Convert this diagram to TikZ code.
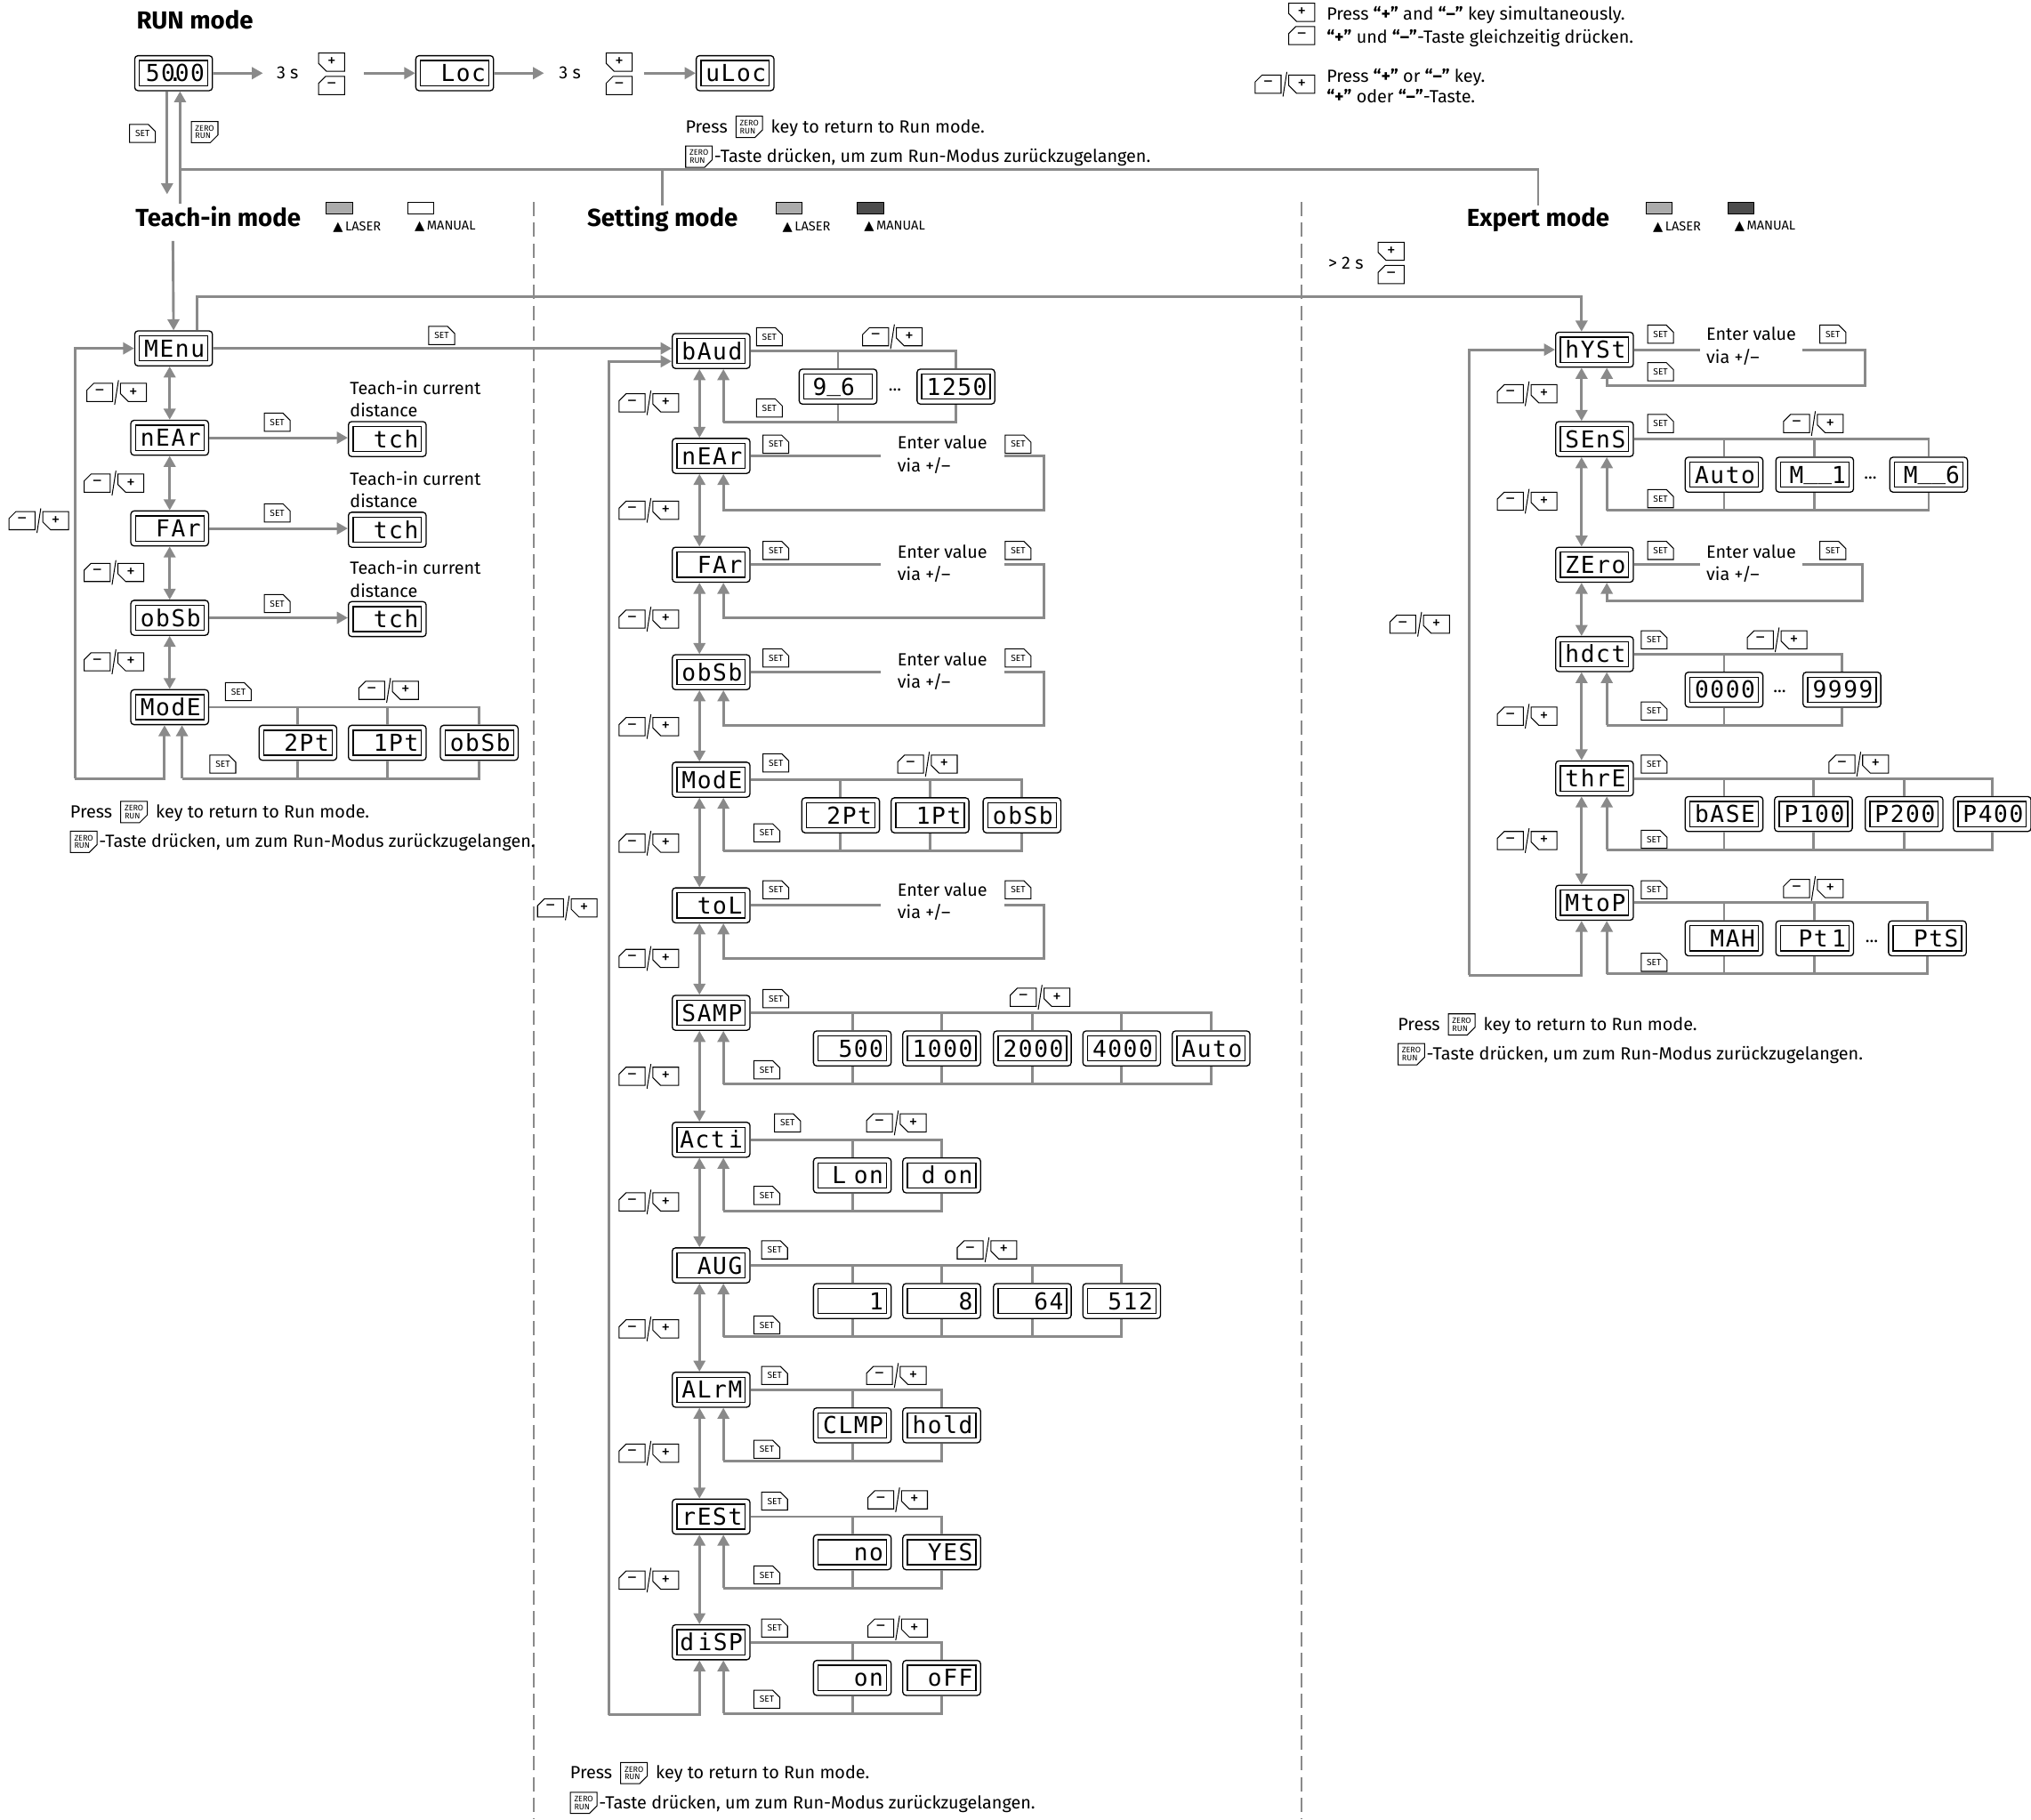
\documentclass[tikz,border=0pt]{standalone}
\usepackage{fontspec}
\setmainfont{Fira Sans}
\newfontfamily\lcdfont[LetterSpace=6]{DejaVu Sans Mono}
\newfontfamily\symfont{DejaVu Sans}
\usetikzlibrary{arrows.meta,positioning,shapes.misc}
\definecolor{wirecol}{HTML}{8A8A8A}
\newcommand\lcdbar{\raisebox{3pt}{\_}}

\tikzset{
    % Connectors
    wire/.style={draw=wirecol, line width=2pt},
    arrow/.style={wire, -{Triangle[length=8.5pt,width=9pt]}},
    both/.style={wire, {Triangle[length=8.5pt,width=9pt]}-{Triangle[length=8.5pt,width=9pt]}},
    divider/.style={draw=wirecol, line width=1.3pt, dash pattern=on 11pt off 5pt},
    % Display with its inner frame
    lcd/.style={draw, rounded corners=2.5pt, line width=.9pt, minimum width=60pt, minimum height=27pt,
        inner sep=0pt, text width=48pt, align=right, text height=13.1pt, text depth=0pt,
        font=\lcdfont\fontsize{18}{18}\selectfont,
        path picture={\draw[sharp corners, line width=.9pt]
            ([xshift=3.6pt,yshift=-3.8pt]path picture bounding box.north west) rectangle
            ([xshift=-3.6pt,yshift=3.8pt]path picture bounding box.south east);}},
    % Keys
    keybox/.style={draw, line width=.7pt, chamfered rectangle, chamfered rectangle sep=3pt,
        minimum width=20pt, minimum height=14pt, inner sep=0pt},
    plus/.style={keybox, chamfered rectangle corners=south west, font=\fontsize{13}{13}\selectfont},
    minus/.style={keybox, chamfered rectangle corners=north west, font=\fontsize{13}{13}\selectfont},
    setkey/.style={keybox, chamfered rectangle corners=north east, font=\fontsize{7}{7}\selectfont},
    zerokey/.style={keybox, chamfered rectangle corners=south east, align=left,
        font=\fontsize{6.2}{6}\selectfont},
    % Text
    heading/.style={inner sep=2pt, text height=14pt, text depth=0pt, font=\bfseries\fontsize{19}{19}\selectfont},
    txt/.style={inner sep=0pt, align=left, font=\fontsize{13.6}{17.5}\selectfont},
    line/.style={txt, text height=11pt, text depth=2pt},
    swatch/.style={draw, line width=.6pt, minimum width=20pt, minimum height=9pt, inner sep=0pt},
    legtxt/.style={inner sep=0pt, font=\fontsize{10}{10}\selectfont}
}

% pair of keys side by side
\newcommand\keypair[3]{
    \node[minus] (#1m) at (#2-13,#3) {--};
    \node[plus] (#1p) at (#2+13,#3) {+};
    \coordinate (#1a) at (#2-1.5,#3+9.5);
    \coordinate (#1b) at (#2+1.5,#3-9.5);
    \draw[line width=.7pt] (#1a) -- (#1b);
}
% pair of keys stacked
\newcommand\keystack[3]{
    \node[plus] (#1p) at (#2,#3-9) {+};
    \node[minus] (#1m) at (#2,#3+9) {--};
}
% row of choices under a display
\newcommand\optrow[3]{
    \coordinate (#1back) at ([xshift=9.5pt]#1.south |- 0,#2+55);
    \foreach \x/\t in {#3}{
        \node[lcd] (#1-\x) at (\x,#2+27.5) {\t};
        \draw[wire] (#1.east) -| (#1-\x.north);
        \draw[wire] (#1-\x.south) |- (#1back);
    }
    \draw[arrow] (#1back) -- ([xshift=9.5pt]#1.south);
}
% value entered by hand
\newcommand\valrow[6]{
    \node[txt, minimum width=#4pt, inner xsep=0pt] (#1val) at (#3,#2) {\begin{tabular}{@{}l@{}}Enter value\\via +/--\end{tabular}};
    \coordinate (#1turn) at (#5,#6);
    \draw[wire] (#1.east) -- (#1.east -| #1val.west);
    \draw[arrow] (#1.east -| #1val.east) -| (#1turn) -| ([xshift=9.5pt]#1.south);
}
% note about the return key
\newcommand\returnnote[3]{
    \node[line, anchor=west] (#1a) at (#2,#3) {Press};
    \node[zerokey, right=6pt of #1a] (#1k) {ZERO\\RUN};
    \node[line, right=6pt of #1k] (#1b) {key to return to Run mode.};
    \node[zerokey, anchor=west] (#1c) at (#2,#3+23) {ZERO\\RUN};
    \node[line, right=1pt of #1c] (#1d) {-Taste drücken, um zum Run-Modus zurückzugelangen.};
}
\newcommand\legendmark[4]{
    \node[swatch, fill=#3] (#1) at (#2,160.5) {};
    \node[legtxt, anchor=west] (#1txt) at (#2-5,175) {{\symfont\fontsize{10}{10}\selectfont ▲}\,#4};
}

\begin{document}
\begin{tikzpicture}[x=1pt, y=-1pt]
    \useasboundingbox (0,0) rectangle (1568,1404.6);

    % --- Section dividers ---
    \draw[divider] (412,156) -- (412,1404.6);
    \draw[divider] (1005,156) -- (1005,1404.6);

    % --- Headings and legends ---
    \node[heading] (Hrun) at (150.5,15) {RUN mode};
    \node[heading] (Hteach) at (168.5,168) {Teach-in mode};
    \node[heading] (Hset) at (511.5,168) {Setting mode};
    \node[heading] (Hexp) at (1187.5,168) {Expert mode};
    \legendmark{Lta}{262}{black!33}{LASER}
    \legendmark{Ltb}{325}{white}{MANUAL}
    \legendmark{Lsa}{609}{black!33}{LASER}
    \legendmark{Lsb}{672}{black!70}{MANUAL}
    \legendmark{Lea}{1281}{black!33}{LASER}
    \legendmark{Leb}{1344}{black!70}{MANUAL}

    % --- Key legend, top right ---
    \keystack{Kleg}{1005}{18.5}
    \keypair{Klog}{992}{65}
    \node[line, anchor=west] (Ntop1) at (1024,11) {Press \textbf{“+”} and \textbf{“–”} key simultaneously.};
    \node[line, anchor=west] (Ntop2) at (1024,29) {\textbf{“+”} und \textbf{“–”}-Taste gleichzeitig drücken.};
    \node[line, anchor=west] (Ntop3) at (1024,59) {Press \textbf{“+”} or \textbf{“–”} key.};
    \node[line, anchor=west] (Ntop4) at (1024,75) {\textbf{“+”} oder \textbf{“–”}-Taste.};

    % --- RUN mode ---
    \node[lcd] (Rval) at (134,56.5) {50\hbox to 0pt{\hss.\hss}00};
    \node[lcd] (Rloc) at (351,56.5) {Loc};
    \node[lcd] (Rulc) at (567.5,56.5) {uLoc};
    \node[txt] (Rt1) at (222,56) {3 s};
    \node[txt] (Rt2) at (440,56) {3 s};
    \keystack{Kr1}{256}{57}
    \keystack{Kr2}{478}{57}
    \coordinate (Ra) at (281,56.5);
    \coordinate (Rb) at (497,56.5);
    \coordinate (Rc) at (203,56.5);
    \coordinate (Rd) at (420,56.5);
    \draw[arrow] (Rval.east) -- (Rc);
    \draw[arrow] (Ra) -- (Rloc.west);
    \draw[arrow] (Rloc.east) -- (Rd);
    \draw[arrow] (Rb) -- (Rulc.west);
    \node[zerokey] (Rzero) at (158,102) {ZERO\\RUN};
    \coordinate (Rdown) at (129,150);
    \coordinate (Rup) at (139,157);
    \coordinate (Rjoin) at (139,131);
    \draw[arrow] ([xshift=-5pt]Rval.south) -- (Rdown);
    \draw[arrow] (Rup) -- ([xshift=5pt]Rval.south);
    \draw[wire] (Rjoin) -| (Hexp.north);
    \draw[wire] (Rjoin) -| (Hset.north);
    \returnnote{Nr}{529}{98}

    % --- Teach-in mode ---
    \foreach \n/\x/\y/\t in {Tmenu/134/269/MEnu, Tnear/131/338/nEAr, Tfar/131/408/FAr, Tobsb/131/477/obSb, Tmode/131/546/ModE}
        \node[lcd] (\n) at (\x,\y) {\t};
    \coordinate (Tin) at (133.5,186);
    \draw[arrow] (Tin) -- (Tmenu.north);
    \draw[both] (Tmenu.south -| Tnear.south) -- (Tnear.north);
    \foreach \a/\b in {Tnear/Tfar, Tfar/Tobsb, Tobsb/Tmode}
        \draw[both] (\a.south) -- (\b.north);
    \foreach \n/\x/\y in {Tnear/299/339, Tfar/299/409, Tobsb/299/478}{
        \node[lcd] (\n tch) at (\x,\y) {tch};
        \draw[arrow] (\n.east) -- (\n.east -| \n tch.west);
        \node[txt, anchor=west] (\n txt) at (270,\y-31) {Teach-in current\\distance};
    }
    \optrow{Tmode}{546}{230/2Pt, 299/1Pt, 370/obSb}
    \coordinate (Tloop) at (58,601);
    \draw[arrow] (Tloop) |- (Tmenu.west);
    \draw[arrow] (Tloop) -| ([xshift=-4pt]Tmode.south);
    \returnnote{Nt}{54}{627}

    % --- Setting mode ---
    \foreach \n/\y/\t in {Sbaud/271/bAud, Snear/352/nEAr, Sfar/436/FAr, Sobsb/519/obSb, Smode/602/ModE, Stol/699/toL,
        Ssamp/782/SAMP, Sacti/880/Act\,i, Saug/977/AUG, Salrm/1073/ALrM, Srest/1171/rESt, Sdisp/1268/d\,iSP}
        \node[lcd] (\n) at (549,\y) {\t};
    \foreach \a/\b in {Sbaud/Snear, Snear/Sfar, Sfar/Sobsb, Sobsb/Smode, Smode/Stol, Stol/Ssamp,
        Ssamp/Sacti, Sacti/Saug, Saug/Salrm, Salrm/Srest, Srest/Sdisp}
        \draw[both] ([xshift=-9pt]\a.south) -- ([xshift=-9pt]\b.north);
    \draw[arrow] (Tmenu.east) -- (Tmenu.east -| Sbaud.west);
    \optrow{Sbaud}{271}{647/{9\lcdbar 6\kern11pt}, 738/1250}
    \node[txt] (Sdots) at (691,301) {...};
    \valrow{Snear}{352}{727.5}{95}{806}{394}
    \valrow{Sfar}{436}{727.5}{95}{806}{477}
    \valrow{Sobsb}{519}{727.5}{95}{806}{560}
    \optrow{Smode}{602}{649/2Pt, 718/1Pt, 789/obSb}
    \valrow{Stol}{697}{727.5}{95}{806}{740}
    \optrow{Ssamp}{782}{658/500, 727/1000, 797/2000, 866/4000, 935/Auto}
    \optrow{Sacti}{880}{658/L on, 727/d on}
    \optrow{Saug}{977}{658/1, 727/8, 797/64, 866/512}
    \optrow{Salrm}{1073}{658/CLMP, 727/hold}
    \optrow{Srest}{1171}{658/no, 727/YES}
    \optrow{Sdisp}{1268}{658/on, 727/oFF}
    \coordinate (Sloop) at (470,1324);
    \draw[arrow] (Sloop) |- ([yshift=-8pt]Sbaud.west);
    \draw[arrow] (Sloop) -| ([xshift=-9pt]Sdisp.south);
    \returnnote{Ns}{440}{1369}

    % --- Expert mode ---
    \foreach \n/\y/\t in {Ehyst/270/hYSt, Esens/339/SEnS, Ezero/436/ZEro, Ehdct/505/hdct, Ethre/601/thrE, Emtop/697/MtoP}
        \node[lcd] (\n) at (1231,\y) {\t};
    \foreach \a/\b in {Ehyst/Esens, Esens/Ezero, Ezero/Ehdct, Ehdct/Ethre, Ethre/Emtop}
        \draw[both] ([xshift=-10pt]\a.south) -- ([xshift=-10pt]\b.north);
    \coordinate (Ejoin) at (1221,229);
    \draw[arrow] ([xshift=18pt]Tmenu.north) |- (Ejoin) -- ([xshift=-10pt]Ehyst.north);
    \node[txt] (Elong) at (1039,203) {> 2 s};
    \keystack{Ke}{1074}{203}
    \valrow{Ehyst}{268}{1352}{78}{1440}{298}
    \optrow{Esens}{339}{1331/Auto, 1401/M\lcdbar\lcdbar 1, 1489/M\lcdbar\lcdbar 6}
    \node[txt] (Edots1) at (1444,369) {...};
    \valrow{Ezero}{436}{1352}{78}{1438}{464}
    \optrow{Ehdct}{505}{1331/0000, 1422/9999}
    \node[txt] (Edots2) at (1374,534) {...};
    \optrow{Ethre}{601}{1331/bASE, 1400/P100, 1470/P200, 1538/P400}
    \optrow{Emtop}{697}{1331/MAH, 1401/Pt\,1, 1488/PtS}
    \node[txt] (Edots3) at (1445,727) {...};
    \coordinate (Eloop) at (1134,753);
    \draw[arrow] (Eloop) |- (Ehyst.west);
    \draw[arrow] (Eloop) -| ([xshift=-10pt]Emtop.south);
    \returnnote{Ne}{1079}{791}

    % --- SET keys ---
    \foreach \x/\y [count=\i] in {110/103, 341/259, 214/326, 214/396, 214/466, 184/534, 172/590,
        594/260, 594/315, 599/343, 786/343, 599/425, 786/425, 599/508, 786/508, 599/589, 592/643,
        599/687, 786/687, 599/771, 592/826, 608/867, 592/923, 598/965, 592/1023, 598/1062, 592/1119,
        598/1159, 592/1216, 598/1257, 592/1312,
        1282/258, 1415/258, 1282/287, 1282/327, 1282/385, 1282/425, 1415/425, 1277/494, 1277/549,
        1277/590, 1277/648, 1277/687, 1277/743}
        \node[setkey] (set\i) at (\x,\y) {SET};

    % --- Key pairs ---
    \foreach \x/\y [count=\i] in {30/402, 90/303, 88/373, 88/442, 88/511, 300/533,
        438/701, 501/311, 501/394, 501/478, 501/561, 501/651, 501/740, 501/831, 501/928, 501/1026,
        501/1122, 501/1220, 689/260, 716/590, 803/770, 692/867, 762/965, 692/1062, 693/1158, 693/1257,
        1096/482, 1179/304, 1179/387, 1179/553, 1179/649, 1400/327, 1372/494, 1435/590, 1400/686}{
        \keypair{pair\i}{\x}{\y}
    }
\end{tikzpicture}
\end{document}
